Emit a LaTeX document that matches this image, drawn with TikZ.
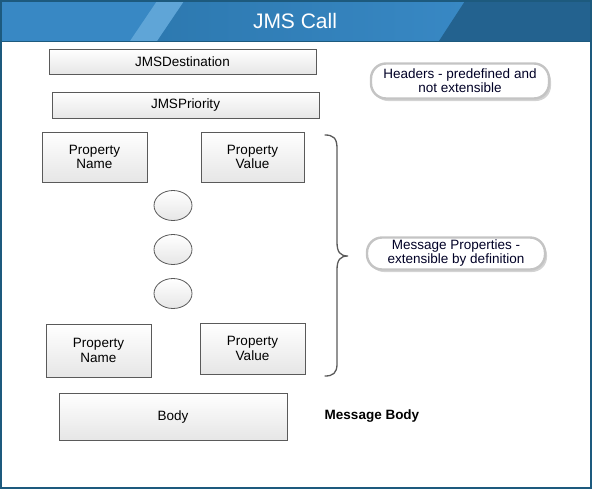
\documentclass[tikz,border=0pt]{standalone}
\usepackage{fontspec}
\setmainfont{Liberation Sans}
\usetikzlibrary{shapes.geometric,shadows}
\definecolor{hdrblue}{HTML}{3888C4}
\definecolor{hdrmid}{HTML}{2D79B0}
\definecolor{hdrlight}{HTML}{5FA5D7}
\definecolor{hdrdark}{HTML}{23628F}
\definecolor{framecol}{HTML}{1D5A7E}
\definecolor{boxline}{HTML}{5A5A5A}
\definecolor{boxgray}{HTML}{E6E6E6}
\definecolor{pillline}{HTML}{C4C4C4}

\begin{document}
\begin{tikzpicture}[x=1pt,y=-1pt,
    field/.style={draw=boxline, line width=0.9pt, top color=white, bottom color=boxgray,
        inner sep=0pt, align=center, font=\fontsize{13.5}{14.5}\selectfont},
    dot/.style={ellipse, draw=boxline, line width=0.8pt, top color=white, bottom color=boxgray,
        minimum width=38pt, minimum height=30pt, inner sep=0pt},
    pill/.style={draw=pillline, line width=2.4pt, fill=white, rounded corners=15pt,
        drop shadow={shadow xshift=2pt, shadow yshift=-2.5pt, opacity=0.35},
        inner sep=0pt, align=center, text=black!85!blue, font=\fontsize{13.5}{14}\selectfont}]
    \useasboundingbox (0,0) rectangle (593,490);

    % header band
    \fill[hdrblue] (1,1) rectangle (591,41);
    \shade[left color=hdrmid, right color=hdrblue] (184,1) -- (465,1) -- (439,41) -- (157,41) -- cycle;
    \fill[hdrlight] (157,1) -- (184,1) -- (157,41) -- (130,41) -- cycle;
    \fill[hdrdark] (465,1) -- (591,1) -- (591,41) -- (439,41) -- cycle;
    \draw[framecol, line width=1pt] (1,41) -- (591,41);
    \node[text=white, font=\fontsize{21}{24}\selectfont] (title) at (295,21) {JMS Call};

    % outer frame
    \draw[framecol, line width=1.6pt] (1,1) rectangle (591,488);

    % headers
    \node[field, minimum width=267pt, minimum height=25pt] (dest) at (182.5,61.5) {JMSDestination};
    \node[field, minimum width=267pt, minimum height=26pt] (prio) at (185.5,105) {JMSPriority};
    \node[pill, minimum width=178pt, minimum height=35pt] (hdrnote) at (460,81) {Headers - predefined and\\not extensible};

    % properties
    \node[field, minimum width=105pt, minimum height=50pt] (name1) at (94.5,157) {Property\\Name};
    \node[field, minimum width=103pt, minimum height=50pt] (value1) at (252.5,157) {Property\\Value};
    \foreach \y/\n in {205.5/dotA, 249.5/dotB, 293.5/dotC}
        \node[dot] (\n) at (173,\y) {};
    \node[field, minimum width=105pt, minimum height=53pt] (name2) at (98.5,350.5) {Property\\Name};
    \node[field, minimum width=105pt, minimum height=51pt] (value2) at (252.5,348.5) {Property\\Value};

    % brace round the properties
    \coordinate (braceTop) at (325,135);
    \coordinate (braceTip) at (348,256);
    \coordinate (braceBot) at (325,376);
    \draw[boxline, line width=1.3pt, line cap=round]
        (braceTop) .. controls (333,135) and (337,138) .. (337,148) -- (337,242)
        .. controls (337,252) and (340,256) .. (braceTip)
        .. controls (340,256) and (337,260) .. (337,270) -- (337,364)
        .. controls (337,373) and (333,376) .. (braceBot);
    \node[pill, minimum width=178pt, minimum height=32pt] (propnote) at (456,253.5) {Message Properties -\\extensible by definition};

    % body
    \node[field, minimum width=228pt, minimum height=47pt] (body) at (173,416.5) {Body};
    \node[font=\fontsize{13.5}{14}\selectfont\bfseries] (bodynote) at (372,416) {Message Body};
\end{tikzpicture}
\end{document}
